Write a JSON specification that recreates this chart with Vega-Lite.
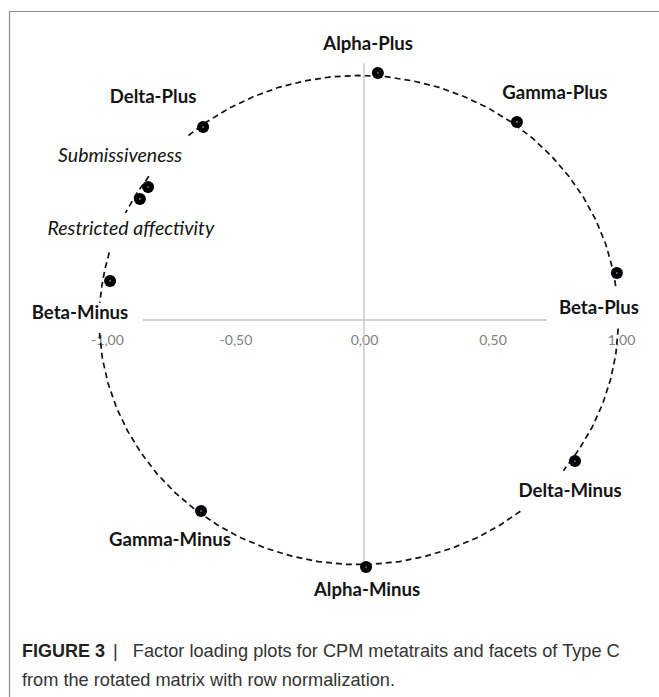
{
  "$schema": "https://vega.github.io/schema/vega-lite/v6.json",
  "width": 650,
  "height": 686,
  "autosize": "none",
  "padding": {"left": 9, "top": 11, "right": 0, "bottom": 0},
  "background": "white",
  "title": {
    "text": "FIGURE 3",
    "subtitle": ["\u200b\u00a0\u00a0\u00a0\u00a0\u00a0\u00a0\u00a0\u00a0\u00a0\u00a0\u00a0\u00a0\u00a0\u00a0\u00a0\u00a0\u00a0\u00a0|\u00a0\u00a0\u00a0Factor loading plots for CPM metatraits and facets of Type C", "from the rotated matrix with row normalization."],
    "orient": "bottom",
    "anchor": "start",
    "frame": "group",
    "offset": -54,
    "dx": 13,
    "font": "Liberation Sans",
    "fontSize": 18,
    "fontWeight": "bold",
    "color": "#231f20",
    "subtitleFont": "Liberation Sans",
    "subtitleFontSize": 18.2,
    "subtitleFontWeight": "normal",
    "subtitleColor": "#333333",
    "subtitlePadding": -18,
    "subtitleLineHeight": 29
  },
  "config": {
    "view": {"stroke": null},
    "locale": {"number": {"decimal": ",", "thousands": ".", "grouping": [3], "currency": ["", " €"], "minus": "-"}}
  },
  "datasets": {
    "points": [
      {"name": "Alpha-Plus", "kind": "metatrait", "x": 0.054, "y": 1.0},
      {"name": "Gamma-Plus", "kind": "metatrait", "x": 0.595, "y": 0.802},
      {"name": "Delta-Plus", "kind": "metatrait", "x": -0.626, "y": 0.781},
      {"name": "Submissiveness", "kind": "facet", "x": -0.84, "y": 0.538},
      {"name": "Restricted affectivity", "kind": "facet", "x": -0.872, "y": 0.49},
      {"name": "Beta-Minus", "kind": "metatrait", "x": -0.988, "y": 0.158},
      {"name": "Beta-Plus", "kind": "metatrait", "x": 0.984, "y": 0.19},
      {"name": "Delta-Minus", "kind": "metatrait", "x": 0.821, "y": -0.571},
      {"name": "Gamma-Minus", "kind": "metatrait", "x": -0.634, "y": -0.773},
      {"name": "Alpha-Minus", "kind": "metatrait", "x": 0.008, "y": -1.0}
    ],
    "labels": [
      {"label": "Alpha-Plus", "kind": "metatrait", "x": 0.016, "y": 1.117},
      {"label": "Gamma-Plus", "kind": "metatrait", "x": 0.743, "y": 0.919},
      {"label": "Delta-Plus", "kind": "metatrait", "x": -0.821, "y": 0.903},
      {"label": "Submissiveness", "kind": "facet", "x": -0.949, "y": 0.664},
      {"label": "Restricted affectivity", "kind": "facet", "x": -0.907, "y": 0.368},
      {"label": "Beta-Minus", "kind": "metatrait", "x": -1.105, "y": 0.028},
      {"label": "Beta-Plus", "kind": "metatrait", "x": 0.914, "y": 0.049},
      {"label": "Delta-Minus", "kind": "metatrait", "x": 0.802, "y": -0.692},
      {"label": "Gamma-Minus", "kind": "metatrait", "x": -0.755, "y": -0.891},
      {"label": "Alpha-Minus", "kind": "metatrait", "x": 0.012, "y": -1.093}
    ],
    "axislines": [
      {"x": -0.86, "x2": 0.712, "y": 0, "y2": 0},
      {"x": 0, "x2": 0, "y": -0.99, "y2": 1.04}
    ],
    "circle": [
      {"seg": "A", "o": 1, "x": -0.683, "y": 0.747},
      {"seg": "A", "o": 2, "x": -0.614, "y": 0.801},
      {"seg": "A", "o": 3, "x": -0.525, "y": 0.857},
      {"seg": "A", "o": 4, "x": -0.431, "y": 0.904},
      {"seg": "A", "o": 5, "x": -0.332, "y": 0.942},
      {"seg": "A", "o": 6, "x": -0.23, "y": 0.968},
      {"seg": "A", "o": 7, "x": -0.126, "y": 0.985},
      {"seg": "A", "o": 8, "x": -0.02, "y": 0.99},
      {"seg": "A", "o": 9, "x": 0.086, "y": 0.985},
      {"seg": "A", "o": 10, "x": 0.19, "y": 0.968},
      {"seg": "A", "o": 11, "x": 0.292, "y": 0.942},
      {"seg": "A", "o": 12, "x": 0.391, "y": 0.904},
      {"seg": "A", "o": 13, "x": 0.485, "y": 0.857},
      {"seg": "A", "o": 14, "x": 0.574, "y": 0.801},
      {"seg": "A", "o": 15, "x": 0.656, "y": 0.736},
      {"seg": "A", "o": 16, "x": 0.731, "y": 0.662},
      {"seg": "A", "o": 17, "x": 0.797, "y": 0.582},
      {"seg": "A", "o": 18, "x": 0.855, "y": 0.495},
      {"seg": "A", "o": 19, "x": 0.903, "y": 0.403},
      {"seg": "A", "o": 20, "x": 0.941, "y": 0.306},
      {"seg": "A", "o": 21, "x": 0.968, "y": 0.206},
      {"seg": "A", "o": 22, "x": 0.982, "y": 0.121},
      {"seg": "B", "o": 1, "x": -0.837, "y": 0.582},
      {"seg": "B", "o": 2, "x": -0.886, "y": 0.51},
      {"seg": "B", "o": 3, "x": -0.928, "y": 0.434},
      {"seg": "C", "o": 1, "x": -0.991, "y": 0.273},
      {"seg": "C", "o": 2, "x": -1.008, "y": 0.206},
      {"seg": "C", "o": 3, "x": -1.02, "y": 0.138},
      {"seg": "C", "o": 4, "x": -1.028, "y": 0.069},
      {"seg": "D", "o": 1, "x": 0.989, "y": -0.035},
      {"seg": "D", "o": 2, "x": 0.98, "y": -0.138},
      {"seg": "D", "o": 3, "x": 0.96, "y": -0.239},
      {"seg": "D", "o": 4, "x": 0.929, "y": -0.339},
      {"seg": "D", "o": 5, "x": 0.888, "y": -0.434},
      {"seg": "D", "o": 6, "x": 0.836, "y": -0.525},
      {"seg": "D", "o": 7, "x": 0.776, "y": -0.61},
      {"seg": "E", "o": 1, "x": -1.029, "y": -0.052},
      {"seg": "E", "o": 2, "x": -1.018, "y": -0.155},
      {"seg": "E", "o": 3, "x": -0.996, "y": -0.256},
      {"seg": "E", "o": 4, "x": -0.963, "y": -0.355},
      {"seg": "E", "o": 5, "x": -0.92, "y": -0.449},
      {"seg": "E", "o": 6, "x": -0.867, "y": -0.539},
      {"seg": "E", "o": 7, "x": -0.805, "y": -0.623},
      {"seg": "E", "o": 8, "x": -0.734, "y": -0.7},
      {"seg": "E", "o": 9, "x": -0.656, "y": -0.769},
      {"seg": "E", "o": 10, "x": -0.57, "y": -0.83},
      {"seg": "E", "o": 11, "x": -0.479, "y": -0.882},
      {"seg": "E", "o": 12, "x": -0.382, "y": -0.924},
      {"seg": "E", "o": 13, "x": -0.281, "y": -0.956},
      {"seg": "E", "o": 14, "x": -0.178, "y": -0.978},
      {"seg": "E", "o": 15, "x": -0.073, "y": -0.989},
      {"seg": "E", "o": 16, "x": 0.033, "y": -0.989},
      {"seg": "E", "o": 17, "x": 0.138, "y": -0.978},
      {"seg": "E", "o": 18, "x": 0.241, "y": -0.956},
      {"seg": "E", "o": 19, "x": 0.342, "y": -0.924},
      {"seg": "E", "o": 20, "x": 0.439, "y": -0.882},
      {"seg": "E", "o": 21, "x": 0.53, "y": -0.83},
      {"seg": "E", "o": 22, "x": 0.616, "y": -0.769}
    ]
  },
  "encoding": {
    "x": {
      "field": "x",
      "type": "quantitative",
      "scale": {"domain": [-1.3813, 1.1479], "nice": false, "zero": false},
      "axis": {
        "orient": "top",
        "values": [-1, -0.5, 0, 0.5, 1],
        "format": ".2f",
        "title": null,
        "grid": false,
        "ticks": false,
        "tickSize": 0,
        "domain": true,
        "domainColor": "#8c8c8c",
        "domainWidth": 1.2,
        "labelPadding": -329,
        "labelBaseline": "middle",
        "labelFont": "Lato",
        "labelFontSize": 14,
        "labelColor": "#808080",
        "labelOverlap": false,
        "labelFlush": false,
        "labelBound": false
      }
    },
    "y": {
      "field": "y",
      "type": "quantitative",
      "scale": {"domain": [-1.5263, 1.251], "nice": false, "zero": false},
      "axis": {
        "orient": "left",
        "title": null,
        "labels": false,
        "ticks": false,
        "grid": false,
        "domain": true,
        "domainColor": "#8c8c8c",
        "domainWidth": 1.2
      }
    }
  },
  "layer": [
    {
      "data": {"name": "axislines"},
      "mark": {"type": "rule", "color": "#c4c4c4", "strokeWidth": 1.3},
      "encoding": {
        "x2": {"field": "x2"},
        "y2": {"field": "y2"}
      }
    },
    {
      "data": {"name": "circle"},
      "mark": {"type": "line", "color": "#111111", "strokeWidth": 1.7, "strokeDash": [6, 4]},
      "encoding": {
        "detail": {"field": "seg", "type": "nominal"},
        "order": {"field": "o", "type": "quantitative"}
      }
    },
    {
      "data": {"name": "points"},
      "mark": {"type": "circle", "size": 145, "color": "#000000", "opacity": 1}
    },
    {
      "data": {"name": "points"},
      "mark": {"type": "circle", "size": 3, "color": "#7d8fc8", "opacity": 1}
    },
    {
      "data": {"name": "labels"},
      "transform": [{"filter": "datum.kind === 'metatrait'"}],
      "mark": {"type": "text", "font": "Lato", "fontSize": 18.6, "fontWeight": "bold", "color": "#141414"},
      "encoding": {"text": {"field": "label", "type": "nominal"}}
    },
    {
      "data": {"name": "labels"},
      "transform": [{"filter": "datum.kind === 'facet'"}],
      "mark": {"type": "text", "font": "Lato", "fontSize": 19.5, "fontStyle": "italic", "color": "#141414"},
      "encoding": {"text": {"field": "label", "type": "nominal"}}
    }
  ]
}
